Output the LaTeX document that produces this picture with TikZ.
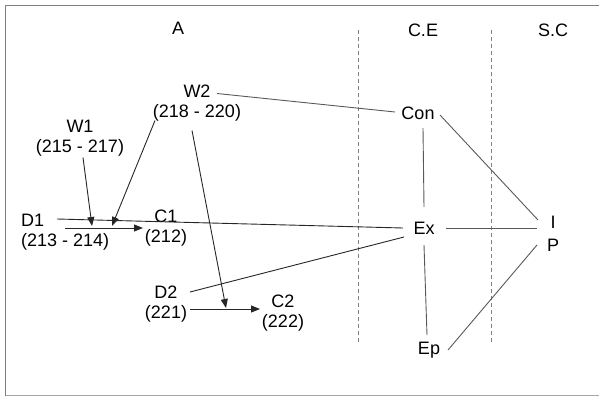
\documentclass[tikz,border=0pt]{standalone}
\usepackage{fontspec}
\setmainfont{Liberation Sans}
\usetikzlibrary{arrows.meta,calc}
\begin{document}
\begin{tikzpicture}[x=1pt,y=-1pt,
  lbl/.style={font=\fontsize{18}{19.5}\selectfont, inner sep=0pt, align=center},
  conn/.style={draw=black!65, line width=0.9pt},
  lconn/.style={draw=black!85, line width=0.9pt},
  arr/.style={draw=black!85, line width=0.9pt, -{Triangle[length=9pt,width=7pt]}},
  sepline/.style={draw=black!50, line width=0.9pt, dash pattern=on 4pt off 3pt},
  frame/.style={draw=black!50, line width=1.4pt}]
\useasboundingbox (0,0) rectangle (599,396);
% frame
\coordinate (f1) at (599,5.5);
\coordinate (f2) at (5.5,5.5);
\coordinate (f3) at (5.5,396);
\coordinate (f4) at (5.5,395);
\coordinate (f5) at (599,395);
\draw[frame] (f1) -- (f2) -- (f3);
\draw[draw=black!35, line width=1pt] (f4) -- (f5);
% column headers
\node[lbl] (hA) at (178,28) {A};
\node[lbl] (hCE) at (423,30) {C.E};
\node[lbl] (hSC) at (553,30) {S.C};
% separators
\coordinate (s1t) at (358,30); \coordinate (s1b) at (358,343);
\coordinate (s2t) at (491,30); \coordinate (s2b) at (491,343);
\draw[sepline] (s1t) -- (s1b);
\draw[sepline] (s2t) -- (s2b);
% left nodes
\node[lbl] (w1) at (80,138) {W1\\(215 - 217)};
\node[lbl] (w2) at (197,103) {W2\\(218 - 220)};
\node[lbl, align=left, anchor=west] (d1) at (21,232) {D1\\(213 - 214)};
\node[lbl] (c1) at (166,228) {C1\\(212)};
\node[lbl] (d2) at (166,304) {D2\\(221)};
\node[lbl] (c2) at (283,313) {C2\\(222)};
% right nodes
\node[lbl] (con) at (418,113) {Con};
\node[lbl] (ex) at (424,228) {Ex};
\node[lbl] (ep) at (429,350) {Ep};
\node[lbl] (i) at (553,222) {I};
\node[lbl] (p) at (553,245) {P};
% junction points on arrows
\coordinate (d1s) at (65,228);
\coordinate (c1e) at (143,228);
\coordinate (j1) at (92,226);
\coordinate (j2) at (112,226);
\coordinate (d2s) at (190,309);
\coordinate (c2e) at (260,309);
\coordinate (j3) at (226,308);
% arrows
\draw[arr] (d1s) -- (c1e);
\draw[arr] ($(w1)+(3,19.5)$) -- (j1);
\draw[arr] ($(w2)+(-42,17.5)$) -- (j2);
\draw[arr] (d2s) -- (c2e);
\draw[arr] ($(w2)+(-5,27.5)$) -- (j3);
% long lines
\draw[lconn] ($(d1.west)+(36,-13)$) -- ($(ex)+(-21,0)$);
\draw[lconn] ($(d2)+(24,-12)$) -- ($(ex)+(-20,9)$);
\draw[conn] ($(w2)+(20,-9.5)$) -- ($(con)+(-23,-1)$);
\draw[conn] ($(con)+(5,15)$) -- ($(ex)+(0,-21)$);
\draw[conn] ($(ex)+(0,17)$) -- ($(ep)+(-2,-15)$);
\draw[conn] ($(con)+(22,2)$) -- ($(i)+(-15,-2)$);
\draw[conn] ($(ex)+(22,0)$) -- ($(i)+(-16,6)$);
\draw[conn] ($(ep)+(19,0)$) -- ($(p)+(-16,0)$);
\end{tikzpicture}
\end{document}
